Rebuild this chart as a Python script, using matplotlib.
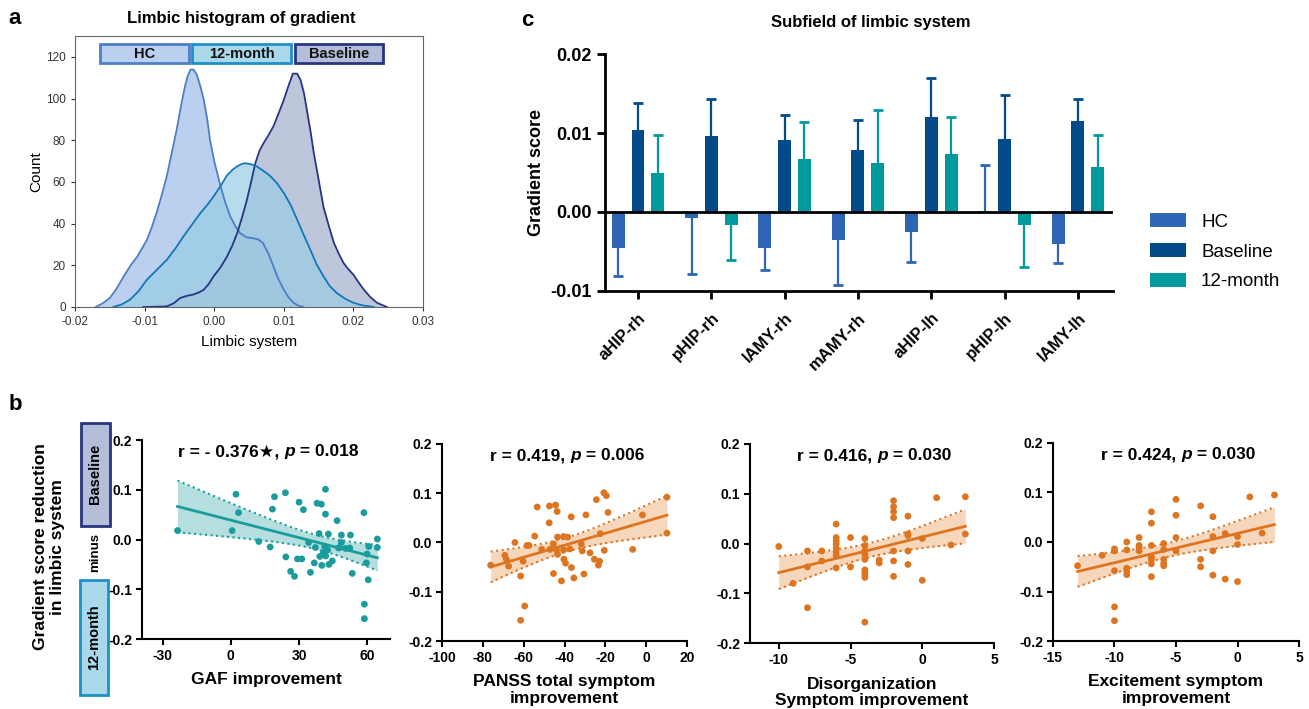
import numpy as np
import matplotlib
matplotlib.use("Agg")
from matplotlib import pyplot as plt
from matplotlib.patches import Rectangle
from matplotlib.offsetbox import TextArea, HPacker, AnnotationBbox

plt.rcParams['font.family'] = ['Liberation Sans', 'DejaVu Sans']
plt.rcParams['axes.unicode_minus'] = False

# ---------- panel a: density curves ----------
hc_x = [-0.0170, -0.0160, -0.0150, -0.0140, -0.0130, -0.0120, -0.0111, -0.0104, -0.0097, -0.0090,
        -0.0083, -0.0076, -0.0068, -0.0061, -0.0054, -0.0048, -0.0042, -0.0038, -0.0034, -0.0030,
        -0.0025, -0.0020, -0.0015, -0.0010, -0.0006, 0.0000, 0.0009, 0.0016, 0.0023, 0.0030, 0.0037,
        0.0046, 0.0056, 0.0063, 0.0070, 0.0078, 0.0085, 0.0092, 0.0100, 0.0107, 0.0114, 0.0121, 0.0128]
hc_y = [0, 1.8, 4.3, 9, 14.7, 20, 24, 28, 32, 38,
        45, 53, 63, 74, 85, 96, 106, 111, 114, 114,
        111.5, 106, 99.5, 90, 80, 70, 58, 50, 43.5, 39, 35.5,
        33.5, 33, 32.5, 30.7, 25.5, 19.5, 13.5, 8.3, 4.5, 2, 0.6, 0]
base_x = [-0.0102, -0.0085, -0.0068, -0.0058, -0.0049, -0.0040, -0.0030, -0.0022, -0.0015, -0.0008,
          -0.0001, 0.0009, 0.0018, 0.0026, 0.0033, 0.0040, 0.0047, 0.0053, 0.0059, 0.0065, 0.0071,
          0.0078, 0.0085, 0.0092, 0.0100, 0.0107, 0.0113, 0.0119, 0.0124, 0.0129, 0.0133, 0.0138,
          0.0143, 0.0150, 0.0157, 0.0165, 0.0172, 0.0179, 0.0186, 0.0193, 0.0200, 0.0207, 0.0215,
          0.0225, 0.0234, 0.0248]
base_y = [0, 0.1, 0.3, 1.8, 4.3, 5.3, 6, 7, 8.3, 11,
          14.7, 19, 24, 29.5, 35.5, 43, 51.5, 60, 69, 75, 78.7,
          82.5, 86.7, 92.5, 99.5, 106.5, 112, 112, 109, 102.5, 94.7, 85,
          74, 61, 48, 38.5, 30.7, 25.5, 21, 18, 15.5, 12, 8.3,
          4.5, 2, 0]
m12_x = [-0.0145, -0.0133, -0.0121, -0.0109, -0.0097, -0.0082, -0.0068, -0.0056, -0.0044, -0.0032,
         -0.0020, -0.0010, -0.0001, 0.0009, 0.0018, 0.0026, 0.0033, 0.0039, 0.0044, 0.0052,
         0.0061, 0.0070, 0.0080, 0.0090, 0.0100, 0.0110, 0.0119, 0.0128, 0.0138, 0.0147, 0.0157,
         0.0166, 0.0176, 0.0188, 0.0200, 0.0214, 0.0229]
m12_y = [0, 1.2, 3.5, 7.5, 13, 18, 22.7, 28, 34, 39.5,
         45, 49, 53, 58, 63, 65.8, 67.5, 68.6, 69, 68.6,
         67.5, 65.5, 63, 59.5, 54.7, 48.8, 42, 35, 27.5, 20.5, 14.7,
         10, 6.7, 4, 2, 0.7, 0]

# ---------- panel c: subfield bars ----------
subfields = ['aHIP-rh', 'pHIP-rh', 'lAMY-rh', 'mAMY-rh', 'aHIP-lh', 'pHIP-lh', 'lAMY-lh']
hc_mean = [-0.0046, -0.0007, -0.0046, -0.0035, -0.0025, 0.0001, -0.0040]
hc_sd = [0.0035, 0.0072, 0.0028, 0.0058, 0.0038, 0.0058, 0.0025]
base_mean = [0.0104, 0.0096, 0.0091, 0.0079, 0.0120, 0.0092, 0.0115]
base_sd = [0.0034, 0.0047, 0.0032, 0.0038, 0.0050, 0.0056, 0.0028]
m12_mean = [0.0049, -0.0017, 0.0067, 0.0062, 0.0073, -0.0017, 0.0057]
m12_sd = [0.0048, 0.0044, 0.0047, 0.0067, 0.0047, 0.0053, 0.0040]

# ---------- panel b: scatter data ----------
gaf_x = [-23.4, 0.6, 2.3, 3.4, 12.3, 17.3, 18.3, 19.2, 24.0, 24.2, 26.3, 28.0, 29.3, 30.0, 31.2, 31.9,
         34.2, 35.0, 36.7, 37.2, 37.9, 38.8, 39.1, 39.8, 40.0, 40.7, 41.3, 41.6, 41.6, 41.7, 42.6, 42.9,
         43.1, 44.6, 46.7, 47.3, 47.9, 48.6, 48.6, 50.5, 52.3, 52.6, 53.4, 58.5, 58.7, 58.7, 59.6, 59.9,
         60.4, 60.6, 64.4, 64.4]
gaf_y = [0.018, 0.018, 0.091, 0.054, -0.004, -0.015, 0.061, 0.086, 0.094, -0.035, -0.064, -0.074, -0.039,
         0.075, -0.039, 0.060, -0.006, -0.066, -0.047, -0.016, 0.073, 0.012, -0.034, 0.071, -0.052, -0.026,
         -0.014, 0.101, 0.051, -0.033, -0.021, 0.011, -0.050, -0.043, 0.038, -0.017, -0.016, 0.009, -0.006,
         -0.018, -0.017, 0.009, -0.068, 0.054, -0.130, -0.159, -0.047, -0.029, -0.081, -0.014, 0.001, -0.016]

panss_x = [-76.2, -69.2, -68.5, -67.4, -64.3, -61.5, -60.3, -59.5, -61.5, -58.4, -57.4, -54.6, -53.4, -51.1,
           -47.5, -47.4, -47.1, -45.4, -45.4, -44.4, -43.9, -43.6, -43.4, -43.4, -41.5, -40.5, -40.5, -40.3,
           -39.5, -38.5, -37.4, -36.7, -36.6, -35.4, -31.8, -31.3, -30.5, -29.5, -27.5, -25.4, -24.4, -23.4,
           -22.8, -22.5, -20.7, -20.5, -19.5, -18.7, -6.6, -1.8, 10.2, 10.2]
panss_y = [-0.046, -0.026, -0.034, -0.048, 0.000, -0.068, -0.038, -0.129, -0.158, -0.006, -0.006, 0.013,
           0.072, -0.014, 0.040, 0.074, -0.014, -0.003, -0.063, 0.076, -0.015, 0.063, 0.011, -0.024, -0.078,
           0.012, -0.015, -0.034, -0.042, 0.011, -0.013, 0.052, -0.051, -0.072, -0.003, -0.017, -0.064, 0.056,
           -0.021, -0.034, 0.087, -0.046, -0.038, 0.018, 0.101, -0.016, 0.095, 0.061, -0.014, 0.056, 0.092, 0.019]

dis_x = [-10, -9, -8, -8, -8, -7, -7, -6, -6, -6, -6, -6, -6, -6, -6, -5, -5,
         -4, -4, -4, -4, -4, -4, -4, -4, -4, -4, -3, -3, -2, -2, -2, -2, -2, -2, -2,
         -1, -1, -1, -1, -1, 0, 0, 1, 2, 3, 3]
dis_y = [-0.006, -0.080, -0.015, -0.047, -0.129, -0.015, -0.035, 0.039, 0.012, 0.006, -0.001, -0.009,
         -0.017, -0.024, -0.049, 0.012, -0.047, 0.010, -0.004, -0.015, -0.022, -0.032, -0.053, -0.058,
         -0.063, -0.068, -0.158, -0.033, -0.039, 0.086, 0.074, 0.064, 0.052, -0.015, -0.035, -0.066,
         0.055, 0.019, 0.016, -0.015, -0.042, 0.010, -0.074, 0.092, -0.003, 0.094, 0.019]

exc_x = [-13, -11, -10, -10, -10, -10, -10, -9, -9, -9, -9, -9, -8, -8, -8, -8,
         -7, -7, -7, -7, -7, -7, -7, -6, -6, -6, -6, -6, -5, -5, -5, -5,
         -3, -3, -3, -2, -2, -2, -2, -1, -1, 0, 0, 0, 1, 2, 3]
exc_y = [-0.048, -0.027, -0.014, -0.018, -0.058, -0.131, -0.159, 0.000, -0.016, -0.053, -0.059, -0.066,
         0.009, -0.007, -0.011, -0.018, 0.061, 0.038, -0.007, -0.030, -0.036, -0.044, -0.070,
         -0.003, -0.015, -0.035, -0.043, -0.048, 0.086, 0.054, 0.009, -0.018,
         0.073, -0.035, -0.050, 0.051, 0.011, -0.018, -0.067, 0.017, -0.075, 0.011, -0.005, -0.080,
         0.091, 0.018, 0.095]

fig = plt.figure(figsize=(13.09, 7.09), dpi=100)

# ================= panel a =================
ax_a = fig.add_axes([0.0573, 0.567, 0.2659, 0.382])
curves = [(hc_x, hc_y, '#BAD0EE', '#4C7FC6', 1.0),
          (base_x, base_y, '#AEB8D4', '#283583', 0.8),
          (m12_x, m12_y, '#98CDE4', '#1277B5', 0.7)]
for xs, ys, fc, ec, a in curves:
    ax_a.fill_between(xs, ys, color=fc, alpha=a, lw=0)
    ax_a.plot(xs, ys, color=ec, lw=1.3, solid_joinstyle='round')
ax_a.set_xlim(-0.02, 0.03)
ax_a.set_ylim(0, 130)
ax_a.set_xticks([-0.02, -0.01, 0.0, 0.01, 0.02, 0.03])
ax_a.set_xticklabels(['-0.02', '-0.01', '0.00', '0.01', '0.02', '0.03'])
ax_a.set_yticks(range(0, 121, 20))
ax_a.tick_params(labelsize=8.5, colors='#333333', length=3)
for sp in ax_a.spines.values():
    sp.set_color('#666666')
ax_a.set_xlabel('Limbic system', fontsize=11, labelpad=5)
ax_a.set_ylabel('Count', fontsize=11, labelpad=2)
boxes = [('HC', 0.072, 0.328, '#BBD0EE', '#4C7FC6'),
         ('12-month', 0.336, 0.621, '#A9D8EA', '#1E90C8'),
         ('Baseline', 0.632, 0.885, '#B4BED8', '#28357F')]
for lab, x0, x1, fc, ec in boxes:
    ax_a.add_patch(Rectangle((x0, 0.90), x1 - x0, 0.07, transform=ax_a.transAxes,
                             facecolor=fc, edgecolor=ec, lw=2, clip_on=False, zorder=5))
    ax_a.text((x0 + x1) / 2, 0.935, lab, transform=ax_a.transAxes, ha='center', va='center',
              fontsize=10.5, fontweight='bold', color='#111111', zorder=6)
fig.text(241 / 1309, 1 - 18 / 709, 'Limbic histogram of gradient', ha='center', va='center',
         fontsize=12, fontweight='bold')

# ================= panel c =================
ax_c = fig.add_axes([0.4622, 0.5896, 0.3881, 0.3342])
pos = np.arange(len(subfields))
groups = [(-0.27, hc_mean, hc_sd, '#2F65B5', 'HC'),
          (0.0, base_mean, base_sd, '#034A88', 'Baseline'),
          (0.27, m12_mean, m12_sd, '#009A9E', '12-month')]
for off, m, sd, col, lab in groups:
    m = np.array(m)
    sd = np.array(sd)
    sign = np.where(m < 0, -1, 1)
    ax_c.bar(pos + off, m, width=0.177, color=col, label=lab, zorder=2)
    ends = m + sign * sd
    ax_c.vlines(pos + off, m, ends, color=col, lw=1.6, zorder=1)
    ax_c.plot(pos + off, ends, ls='none', marker='_', ms=7, mew=2, color=col, zorder=1)
ax_c.axhline(0, color='black', lw=2, zorder=3)
ax_c.set_xlim(-0.45, 6.48)
ax_c.set_ylim(-0.01, 0.02)
ax_c.set_yticks([-0.01, 0.0, 0.01, 0.02])
ax_c.set_yticklabels(['-0.01', '0.00', '0.01', '0.02'], fontsize=13, fontweight='bold')
ax_c.set_xticks(pos)
ax_c.set_xticklabels(subfields, rotation=45, ha='right', rotation_mode='anchor',
                     fontsize=12, fontweight='bold')
ax_c.spines['top'].set_visible(False)
ax_c.spines['right'].set_visible(False)
ax_c.spines['left'].set_linewidth(2)
ax_c.spines['bottom'].set_linewidth(2)
ax_c.tick_params(width=2, length=6)
ax_c.tick_params(axis='x', pad=8)
ax_c.set_ylabel('Gradient score', fontsize=13, fontweight='bold')
fig.text(871 / 1309, 1 - 22 / 709, 'Subfield of limbic system', ha='center', va='center',
         fontsize=12, fontweight='bold')
fig.legend(loc='center left', bbox_to_anchor=(0.866, 0.645), frameon=False, fontsize=13.5,
           handlelength=1.9, handleheight=0.8, labelspacing=0.65, handletextpad=0.8)

# ================= panel b =================
teal, teal_fill = '#1A9C9C', '#B5DFDF'
orange, orange_fill = '#DD7420', '#F6D7BC'


def fit_band(x, y):
    x = np.asarray(x)
    y = np.asarray(y)
    n = len(x)
    b, a = np.polyfit(x, y, 1)
    xs = np.linspace(x.min(), x.max(), 100)
    yhat = a + b * xs
    s = np.sqrt(np.sum((y - (a + b * x)) ** 2) / (n - 2))
    sxx = np.sum((x - x.mean()) ** 2)
    half = 2.01 * s * np.sqrt(1 / n + (xs - x.mean()) ** 2 / sxx)
    return xs, yhat, half


panels = [
    ([0.1085, 0.0987, 0.1895, 0.2807], gaf_x, gaf_y, (-39, 70), [-30, 0, 30, 60],
     'GAF improvement', ['r = - 0.376\u2605, ', 'p', ' = 0.018'], teal, teal_fill),
    ([0.3377, 0.0959, 0.1871, 0.2779], panss_x, panss_y, (-100, 20), [-100, -80, -60, -40, -20, 0, 20],
     'PANSS total symptom\nimprovement', ['r = 0.419, ', 'p', ' = 0.006'], orange, orange_fill),
    ([0.5730, 0.0930, 0.1864, 0.2808], dis_x, dis_y, (-12, 5), [-10, -5, 0, 5],
     'Disorganization\nSymptom improvement', ['r = 0.416, ', 'p', ' = 0.030'], orange, orange_fill),
    ([0.8044, 0.0959, 0.1880, 0.2793], exc_x, exc_y, (-15, 5), [-15, -10, -5, 0, 5],
     'Excitement symptom\nimprovement', ['r = 0.424, ', 'p', ' = 0.030'], orange, orange_fill),
]
for rect, xd, yd, xlim, xt, xlab, title, col, fcol in panels:
    ax = fig.add_axes(rect)
    xs, yhat, half = fit_band(xd, yd)
    ax.fill_between(xs, yhat - half, yhat + half, color=fcol, lw=0, zorder=1)
    ax.plot(xs, yhat - half, ls=':', color=col, lw=1.5, zorder=2)
    ax.plot(xs, yhat + half, ls=':', color=col, lw=1.5, zorder=2)
    ax.plot(xs, yhat, color=col, lw=2, zorder=3)
    ax.scatter(xd, yd, s=24, color=col, edgecolors='none', zorder=4)
    ax.set_xlim(*xlim)
    ax.set_ylim(-0.2, 0.2)
    ax.set_xticks(xt)
    ax.set_xticklabels([str(v) for v in xt], fontsize=10, fontweight='bold')
    ax.set_yticks([-0.2, -0.1, 0.0, 0.1, 0.2])
    ax.set_yticklabels(['-0.2', '-0.1', '0.0', '0.1', '0.2'], fontsize=10, fontweight='bold')
    ax.spines['top'].set_visible(False)
    ax.spines['right'].set_visible(False)
    ax.spines['left'].set_linewidth(1.5)
    ax.spines['bottom'].set_linewidth(1.5)
    ax.tick_params(width=1.5, length=4, pad=3)
    ax.set_xlabel(xlab, fontsize=12.5, fontweight='bold', labelpad=7, linespacing=1.15)
    parts = [TextArea(title[0], textprops=dict(fontsize=12.5, fontweight='bold')),
             TextArea(title[1], textprops=dict(fontsize=12.5, fontweight='bold', style='italic')),
             TextArea(title[2], textprops=dict(fontsize=12.5, fontweight='bold'))]
    pack = HPacker(children=parts, align='baseline', pad=0, sep=0)
    ab = AnnotationBbox(pack, (0.51, 0.94), xycoords='axes fraction', frameon=False,
                        box_alignment=(0.5, 0.5))
    ax.add_artist(ab)

# left labels for panel b
fig.patches.append(Rectangle((81 / 1309, 1 - 526 / 709), 29 / 1309, 103 / 709, transform=fig.transFigure,
                             facecolor='#B4BED8', edgecolor='#28357F', lw=2))
fig.patches.append(Rectangle((80 / 1309, 1 - 695 / 709), 28 / 1309, 115 / 709, transform=fig.transFigure,
                             facecolor='#A9D8EA', edgecolor='#1E90C8', lw=2))
fig.text(95.5 / 1309, 1 - 474 / 709, 'Baseline', rotation=90, ha='center', va='center',
         fontsize=10.5, fontweight='bold')
fig.text(94 / 1309, 1 - 637 / 709, '12-month', rotation=90, ha='center', va='center',
         fontsize=10.5, fontweight='bold')
fig.text(95 / 1309, 1 - 553 / 709, 'minus', rotation=90, ha='center', va='center',
         fontsize=9.5, fontweight='bold')
fig.text(49 / 1309, 1 - 547 / 709, 'Gradient score reduction\nin limbic system', rotation=90,
         ha='center', va='center', multialignment='center', fontsize=12.5, fontweight='bold',
         linespacing=1.2)

# panel letters
fig.text(15 / 1309, 1 - 18 / 709, 'a', ha='center', va='center', fontsize=16, fontweight='bold')
fig.text(527 / 1309, 1 - 20 / 709, 'c', ha='center', va='center', fontsize=16, fontweight='bold')
fig.text(15 / 1309, 1 - 405 / 709, 'b', ha='center', va='center', fontsize=16, fontweight='bold')

fig.savefig('out.png', dpi=100)
